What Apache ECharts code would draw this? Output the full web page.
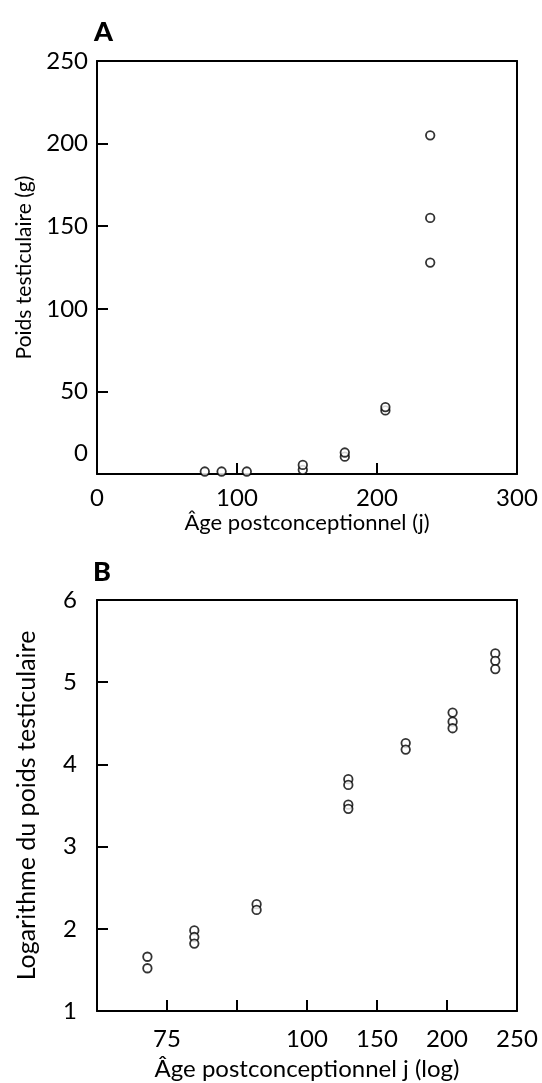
<!DOCTYPE html>
<html>
<head>
<meta charset="utf-8">
<style>
  html, body { margin: 0; padding: 0; background: #fff; }
  #chart { width: 542px; height: 1083px; }
</style>
<script src="https://cdn.jsdelivr.net/npm/echarts@6/dist/echarts.min.js"></script>
</head>
<body>
<div id="chart"></div>
<script>
// A : âge (j) / poids testiculaire (g)
var ageA = [77, 89, 107, 147, 147, 177, 177, 206, 206, 238, 238, 238];
var poidsA = [1.5, 1.5, 1.5, 2.5, 5.5, 10.5, 13, 38.5, 40.5, 128, 155, 205];
// B : position sur l'axe (log) / logarithme du poids
var xTickLabels = ['', '75', '', '100', '150', '200', '250'];
var posB = [0.72, 0.72, 1.39, 1.39, 1.39, 2.28, 2.28, 3.59, 3.59, 3.59, 3.59, 4.41, 4.41, 5.08, 5.08, 5.08, 5.69, 5.69, 5.69];
var logPoidsB = [1.66, 1.52, 1.98, 1.9, 1.82, 2.3, 2.23, 3.82, 3.75, 3.51, 3.46, 4.26, 4.18, 4.63, 4.52, 4.44, 5.35, 5.26, 5.16];

(function() {
  var myChart = echarts.init(document.getElementById('chart'));
  var font = 'Lato';
  var dataA = ageA.map(function(v, i) { return [v, poidsA[i]]; });
  var dataB = posB.map(function(v, i) { return [v, logPoidsB[i]]; });

  // style commun des axes
  function axisBase(nameSize) {
    return {
      type: 'value',
      axisLine: { show: true, onZero: false, lineStyle: { color: '#000', width: 2 } },
      axisTick: { show: true, inside: true, length: 11, lineStyle: { color: '#000', width: 2 } },
      splitLine: { show: false },
      nameTextStyle: { color: '#000', fontFamily: font, fontSize: nameSize },
      nameLocation: 'middle'
    };
  }
  function withLabel(ax, extra) {
    ax.axisLabel = Object.assign({ color: '#000', fontFamily: font, fontSize: 24 }, extra || {});
    return ax;
  }
  // cadre : axes haut / droite sans graduations
  function frame(grid, pos, min, max) {
    return {
      type: 'value', gridIndex: grid, position: pos, min: min, max: max,
      axisLine: { show: true, onZero: false, lineStyle: { color: '#000', width: 2 } },
      axisTick: { show: false }, axisLabel: { show: false }, splitLine: { show: false }
    };
  }

  var xA = withLabel(axisBase(22), { margin: 12 });
  Object.assign(xA, { gridIndex: 0, min: 0, max: 300, interval: 100, name: 'Âge postconceptionnel (j)', nameGap: 38 });

  var yA = withLabel(axisBase(21), {
    margin: 9,
    formatter: function(v) { return v === 0 ? '{z|0}' : String(v); },
    rich: { z: { fontFamily: font, fontSize: 24, color: '#000', padding: [0, 0, 42, 0] } }
  });
  Object.assign(yA, { gridIndex: 0, min: 0, max: 250, interval: 50, name: 'Poids testiculaire (g)', nameGap: 62 });

  var xB = withLabel(axisBase(24), {
    margin: 16,
    formatter: function(v) { return xTickLabels[Math.round(v)]; }
  });
  Object.assign(xB, { gridIndex: 1, min: 0, max: 6, interval: 1, name: 'Âge postconceptionnel j (log)', nameGap: 46 });

  var yB = withLabel(axisBase(25), { margin: 20 });
  Object.assign(yB, { gridIndex: 1, min: 1, max: 6, interval: 1, name: 'Logarithme du poids testiculaire', nameGap: 58 });

  var point = {
    type: 'scatter',
    symbol: 'circle',
    symbolSize: 8.5,
    itemStyle: { color: '#fff', borderColor: '#000', borderWidth: 1.8 },
    silent: true
  };

  var option = {
    backgroundColor: '#fff',
    animation: false,
    title: [
      { text: 'A', left: 89, top: 14, textStyle: { fontFamily: font, fontSize: 27, fontWeight: 900, color: '#000' } },
      { text: 'B', left: 88, top: 554, textStyle: { fontFamily: font, fontSize: 27, fontWeight: 900, color: '#000' } }
    ],
    grid: [
      { left: 97, right: 25, top: 61, height: 413, show: false },
      { left: 97, right: 25, top: 600, height: 411, show: false }
    ],
    xAxis: [xA, xB, frame(0, 'top', 0, 300), frame(1, 'top', 0, 6)],
    yAxis: [yA, yB, frame(0, 'right', 0, 250), frame(1, 'right', 1, 6)],
    series: [
      Object.assign({}, point, { xAxisIndex: 0, yAxisIndex: 0, data: dataA }),
      Object.assign({}, point, { xAxisIndex: 1, yAxisIndex: 1, data: dataB })
    ]
  };
  myChart.setOption(option);
  window.addEventListener('resize', function() {
    myChart.resize();
  });
})();
</script>
</body>
</html>
